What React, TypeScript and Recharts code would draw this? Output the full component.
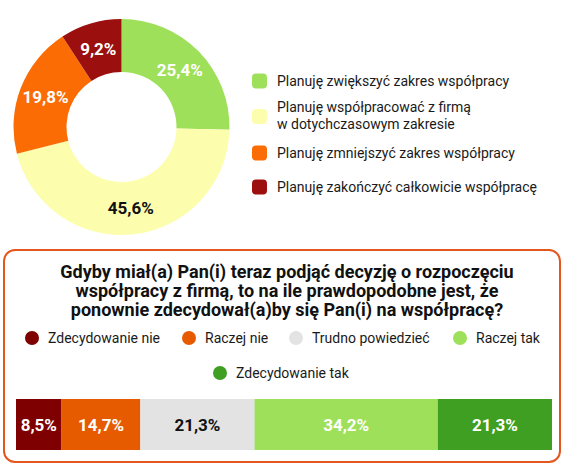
import React from "react";
import { Bar, BarChart, Cell, LabelList, Pie, PieChart, XAxis, YAxis } from "recharts";

// donut: plans for future cooperation
const planLabels = [
  "Planuję zwiększyć zakres współpracy",
  "Planuję współpracować z firmą\nw dotychczasowym zakresie",
  "Planuję zmniejszyć zakres współpracy",
  "Planuję zakończyć całkowicie współpracę",
];
const planValues = [25.4, 45.6, 19.8, 9.2];
const planColors = ["#9fe05a", "#fdfdae", "#fb6c04", "#9b0f0f"];
const planTextColors = ["#fff", "#111", "#fff", "#fff"];

// stacked bar: would you decide again
const answerLabels = [
  "Zdecydowanie nie",
  "Raczej nie",
  "Trudno powiedzieć",
  "Raczej tak",
  "Zdecydowanie tak",
];
const answerValues = [8.5, 14.7, 21.3, 34.2, 21.3];
const answerColors = ["#7e0000", "#e65b00", "#e3e3e3", "#9ee05a", "#3e9f22"];
const answerTextColors = ["#fff", "#fff", "#111", "#fff", "#fff"];

const questionLines = [
  "Gdyby miał(a) Pan(i) teraz podjąć decyzję o rozpoczęciu",
  "współpracy z firmą, to na ile prawdopodobne jest, że",
  "ponownie zdecydował(a)by się Pan(i) na współpracę?",
];

const fmt = (v: number) => `${v.toFixed(1).replace(".", ",")}%`;

const pieData = planLabels.map((name, i) => ({ name, value: planValues[i] }));
const barRow = [
  answerValues.reduce((acc, v, i) => ({ ...acc, [`a${i}`]: v }), { name: "q" } as Record<string, any>),
];

const RADIAN = Math.PI / 180;
const renderPieLabel = (p: any) => {
  const r = (p.innerRadius + p.outerRadius) / 2;
  const x = p.cx + r * Math.cos(-p.midAngle * RADIAN);
  const y = p.cy + r * Math.sin(-p.midAngle * RADIAN);
  return (
    <text
      x={x}
      y={y}
      fill={planTextColors[p.index]}
      textAnchor="middle"
      dominantBaseline="central"
      fontSize={17}
      fontWeight={700}
    >
      {fmt(p.value)}
    </text>
  );
};

const legendRowsTop = [81, 116, 153, 187];

export default function App() {
  return (
    <div
      style={{
        position: "absolute",
        left: 0,
        top: 0,
        width: 566,
        height: 468,
        background: "#fff",
        fontFamily: "Roboto, sans-serif",
        color: "#1a1a1a",
      }}
    >
      <div style={{ position: "absolute", left: 0, top: 0 }}>
        <PieChart width={250} height={245} margin={{ top: 0, right: 0, bottom: 0, left: 0 }}>
          <Pie
            data={pieData}
            dataKey="value"
            cx={121.5}
            cy={127}
            innerRadius={55}
            outerRadius={108}
            startAngle={90}
            endAngle={-270}
            stroke="none"
            label={renderPieLabel}
            labelLine={false}
            isAnimationActive={false}
          >
            {pieData.map((d, i) => (
              <Cell key={d.name} fill={planColors[i]} />
            ))}
          </Pie>
        </PieChart>
      </div>

      {planLabels.map((label, i) => (
        <div
          key={label}
          style={{
            position: "absolute",
            left: 252,
            top: legendRowsTop[i],
            transform: "translateY(-50%)",
            display: "flex",
            alignItems: "center",
            fontSize: 14,
            lineHeight: "17px",
          }}
        >
          <span
            style={{
              width: 15,
              height: 15,
              borderRadius: 4,
              background: planColors[i],
              marginRight: 10,
              flexShrink: 0,
            }}
          />
          <span style={{ whiteSpace: "pre" }}>{label}</span>
        </div>
      ))}

      <div
        style={{
          position: "absolute",
          left: 3,
          top: 249,
          width: 558,
          height: 214,
          boxSizing: "border-box",
          border: "2.5px solid #e5561e",
          borderRadius: 12,
        }}
      />

      <div
        style={{
          position: "absolute",
          left: 0,
          top: 262,
          width: 574,
          textAlign: "center",
          fontSize: 18,
          fontWeight: 700,
          lineHeight: "19px",
          color: "#111",
        }}
      >
        {questionLines.map((l) => (
          <div key={l}>{l}</div>
        ))}
      </div>

      {answerLabels.map((label, i) => {
        const pos = [
          { left: 25, top: 338 },
          { left: 182, top: 338 },
          { left: 289, top: 338 },
          { left: 453, top: 338 },
          { left: 213, top: 373 },
        ][i];
        return (
          <div
            key={label}
            style={{
              position: "absolute",
              left: pos.left,
              top: pos.top,
              transform: "translateY(-50%)",
              display: "flex",
              alignItems: "center",
              fontSize: 14,
            }}
          >
            <span
              style={{
                width: 14,
                height: 14,
                borderRadius: 7,
                background: answerColors[i],
                marginRight: 9,
                flexShrink: 0,
              }}
            />
            <span style={{ whiteSpace: "nowrap" }}>{label}</span>
          </div>
        );
      })}

      <div style={{ position: "absolute", left: 0, top: 399 }}>
        <BarChart
          width={566}
          height={51}
          data={barRow}
          layout="vertical"
          barCategoryGap={0}
          margin={{ top: 0, right: 14, bottom: 0, left: 16 }}
        >
          <XAxis type="number" domain={[0, 100]} hide />
          <YAxis type="category" dataKey="name" hide />
          {answerValues.map((_, i) => (
            <Bar
              key={i}
              dataKey={`a${i}`}
              stackId="s"
              fill={answerColors[i]}
              isAnimationActive={false}
            >
              <LabelList
                dataKey={`a${i}`}
                position="center"
                formatter={(v: any) => fmt(Number(v))}
                fill={answerTextColors[i]}
                fontSize={17}
                fontWeight={700}
              />
            </Bar>
          ))}
        </BarChart>
      </div>
    </div>
  );
}
